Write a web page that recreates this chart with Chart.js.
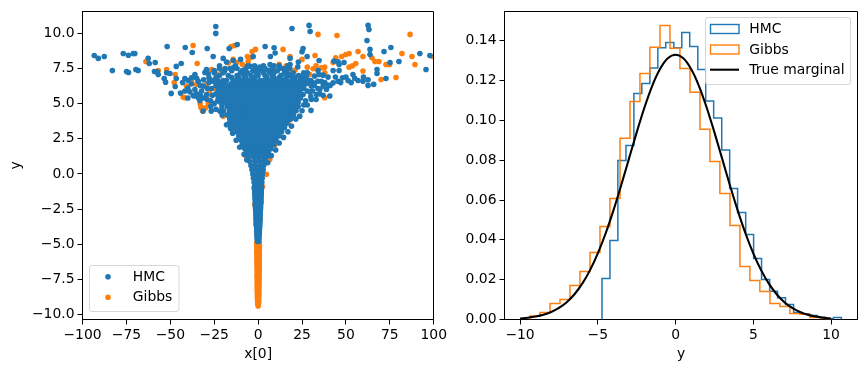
<!DOCTYPE html>
<html>
<head>
<meta charset="utf-8">
<script src="https://cdn.jsdelivr.net/npm/chart.js@4"></script>
<style>
html,body{margin:0;padding:0;background:#fff;width:866px;height:371px;overflow:hidden}
canvas{position:absolute;top:0}
#a{left:0}#b{left:450px}
</style>
</head>
<body>
<canvas id="a" width="450" height="371"></canvas>
<canvas id="b" width="416" height="371"></canvas>
<script>
// ---- left panel: joint samples (x[0], y) ----
const xTicksLeft = [-100,-75,-50,-25,0,25,50,75,100];
const yTicksLeft = [-10,-7.5,-5,-2.5,0,2.5,5,7.5,10];
const hmcSparse = [[-93.3,8.43],[-91,8.22],[-87.6,8.36],[-83,7.36],[-76.8,8.57],[-73.9,8.45],[-71.1,8.57],[-70.2,8.57],[-74.9,7.29],[-73.8,7.22],[-69.6,7.43],[-68.3,7.36],[-62.6,8.22],[-62,7.86],[-58.6,7.93],[-59,7.29],[-57.4,7.27],[-56.9,7.08],[-52.1,7.2],[-50.2,7.15],[-53.5,6.79],[-52.7,6.53],[-51.8,9.07],[-41.5,9],[-37.5,8.64],[-29,8.93],[-25.6,8.36],[-24.1,10.49],[-24.1,10],[-19.9,8.22],[-18,7.96],[-16.5,8.93],[-11.9,9.21],[-14.2,8.07],[-10,8.15],[-2.8,8.36],[4,9.07],[9.1,8.98],[9.7,8.6],[7,8.36],[6.8,7.79],[19.3,10.35],[29,10.57],[29.6,10.14],[25.6,8.93],[25,8.69],[27.9,8.36],[34.7,8.07],[18.2,8.22],[18.2,7.79],[22.9,7.96],[22.6,7.62],[62.6,10.57],[63.1,10.28],[62,9.5],[63.7,8.86],[63.7,8.5],[71.7,8.71],[75.6,9],[92.1,8.57],[97.8,8.43],[95.6,7.43],[80.2,8],[75.1,7.93],[67.7,7.43],[67.7,7.15],[72.8,6.79],[65.8,6.37],[62.6,6.3],[62.6,6.7],[59.7,6.6],[56.9,6.65],[54,7.08],[51.2,6.65],[48,6.84],[45.5,6.6],[42.7,6.48],[42.7,7.36],[46.1,7.36],[43.2,8.03],[45.5,7.98],[48.9,7.93],[46.1,7.79],[39.8,6.89],[37,7.03],[34.1,7.36],[34.7,7.08],[30.1,4.52],[-49.5,5.73],[-47.2,6.22],[-46.6,6.79],[-46.6,7.65],[-43.8,7.86],[-41.7,6.79],[-39.8,6.65],[-36,7.08],[-37.9,6.84],[-44.2,5.75],[-38.9,5.84],[-36.6,5.54],[-33.2,5.23],[-31.3,4.47],[-26.7,4.47],[-21.8,4.47],[-15.7,3.24],[-29.4,7.43],[-28.4,7.12],[-30.3,7.22],[-18.8,7.5],[-14.2,7.55],[-8.5,7.36],[-4.7,7.67],[0.9,7.6],[2.8,7.43],[6.6,7.2],[14.2,7.5],[17.1,7.08],[20.3,6.84],[23.7,6.96],[27.5,6.89],[31.3,6.49],[35.1,6.01],[38.9,6.01],[40.8,5.54],[25.6,5.65],[29.4,5.84],[33.2,5.65],[30.3,5.3],[23.7,4.11],[-34.1,6.6],[-31.3,6.25],[-32.2,5.9],[-29.4,5.65],[-36,6],[-41.7,5.9],[-34.1,5.42],[-26.5,6.08],[-25.6,6.6],[-27.5,6.72],[30.3,6.25],[34.1,6.08],[37,6.25],[32.2,6.96],[25.6,6.6],
[-43,6.5],[-40,6.1],[-38,6.4],[-35,6.8],[-33,6.3],[-31,6.7],[-29,6.1],[-28,6.5],[-37,5.6],[-35,5.7],[-33,5.6],[-31,5.4],[-29,5.3],[-27,5.2],[-40,5.4],[-26,5.6],[-25,5],[-27,4.8],[-24,4.6],[-23,5.2],[27,6.4],[29,6.6],[32,6.3],[34,6.6],[36,6.6],[38,6.5],[40,6.3],[28,5.9],[31,5.9],[35,5.7],[37,5.6],[27,5.2],[26,4.9],[25,4.5],[28,4.9],[33,5.3],[26,6.1],[30,5.5],[41,6.3],[44,6.9],[47,6.5],[50,6.9],[53,6.5],[55,6.8],[60,6.9],[-20.5,4.2],[-18,3.5],[-16.5,3.6],[-14.5,2.9],[-12.5,2.4],[-10.5,1.9],[21.5,3.9],[19,3.4],[17,3],[14.5,2.6],[12,2.2],[10,1.7],[7.5,1.3],[-8,1.4],[-6.5,1],[5.5,0.8]];
// dense body of the funnel, read row by row: [y, [x, x, ...]]
const hmcRows = [
[7.7,[-13,-6,-2,3,9,-22,12,17]],
[7.5,[-22,-16,-12,-7,-1,4,8,12,18]],
[7.35,[-25,-19,-15,-9,-3,1,6,11,16]],
[7.2,[-25,-20,-10,-6,-1,3,9,15,20,26,28]],
[7,[-22,-17,-12,-8,-4,0,4,8,13,18,23]],
[6.85,[-28,-24,-15,-11,-7,-2,5,9,12,16,21,25]],
[6.65,[-26,-23,-20,-18,-14,-12,-9,-7,-5,-3,-2,1,3,5,7,10,12,14,16,19,21,24,27,30]],
[6.45,[-22,-19,-15,-12,-10,-8,-6,-4,-1,1,3,6,8,11,13,15,18,21,23,28]],
[6.3,[-24,-21.4,-18.8,-16.2,-13.6,-11,-8.4,-5.8,-3.2,-0.6,2,4.6,7.2,9.8,12.4,15,17.6,20.2,22.8,25.4]],
[6,[-22.7,-20.1,-17.5,-14.9,-12.3,-9.7,-7.1,-4.5,-1.9,0.7,3.3,5.9,8.5,11.1,13.7,16.3,18.9,21.5,24.1]],
[5.7,[-24,-21.4,-18.8,-16.2,-13.6,-11,-8.4,-5.8,-3.2,-0.6,2,4.6,7.2,9.8,12.4,15,17.6,20.2,22.8,24.4]],
[5.4,[-22.7,-20.1,-17.5,-14.9,-12.3,-9.7,-7.1,-4.5,-1.9,0.7,3.3,5.9,8.5,11.1,13.7,16.3,18.9,21.5,24.1]],
[5.1,[-21.4,-18.8,-16.2,-13.6,-11,-8.4,-5.8,-3.2,-0.6,2,4.6,7.2,9.8,12.4,15,17.6,20.2,22.8]],
[4.8,[-20.6,-17.5,-14.9,-12.3,-9.7,-7.1,-4.5,-1.9,0.7,3.3,5.9,8.5,11.1,13.7,16.3,18.9,21.5,22.8]],
[4.5,[-19.6,-16.2,-13.6,-11,-8.4,-5.8,-3.2,-0.6,2,4.6,7.2,9.8,12.4,15,17.6,20.2,21.6]],
[4.2,[-17.5,-14.9,-12.3,-9.7,-7.1,-4.5,-1.9,0.7,3.3,5.9,8.5,11.1,13.7,16.3,18.9,20.2]],
[3.9,[-16.2,-13.6,-11,-8.4,-5.8,-3.2,-0.6,2,4.6,7.2,9.8,12.4,15,17.6,18.6]],
[3.6,[-14.9,-12.3,-9.7,-7.1,-4.5,-1.9,0.7,3.3,5.9,8.5,11.1,13.7,16.3]],
[3.3,[-13.6,-11,-8.4,-5.8,-3.2,-0.6,2,4.6,7.2,9.8,12.4,15]],
[3,[-12.3,-9.7,-7.1,-4.5,-1.9,0.7,3.3,5.9,8.5,11.1,13.4]],
[2.7,[-11,-8.4,-5.8,-3.2,-0.6,2,4.6,7.2,9.8,12]],
[2.4,[-9.7,-7.1,-4.5,-1.9,0.7,3.3,5.9,8.5,10.2]],
[2.1,[-9,-6.4,-3.8,-1.2,1.4,4,6.6,8.9]],
[1.8,[-7.6,-5.1,-2.5,0.1,2.7,5.3,7.2]],
[1.5,[-6.5,-3.9,-1.3,1.3,3.9,5.8]],
[1.2,[-5.6,-2.6,0,2.6,4.8]],
[0.9,[-4.8,-1.9,0.7,3.3,4]],
[0.6,[-4.1,-1.6,1,3.2]],
[0.3,[-3.5,-0.8,1.7,2.9]],
[0,[-3,-0.6,1.3,2.5]],
[-0.3,[-2.7,-0.5,1.5,2.3]],
[-0.6,[-2.3,0,2.1]],
[-0.9,[-2,0,1.9]],
[-1.05,[-2,1.9]],
[-1.2,[-1.9,0,1.8]],
[-1.35,[-1.9,1.8]],
[-1.5,[-1.8,0,1.7]],
[-1.65,[-1.8,1.7]],
[-1.8,[-1.7,0,1.6]],
[-1.95,[-1.6,1.5]],
[-2.1,[-1.6,0,1.5]],
[-2.25,[-1.5,1.4]],
[-2.4,[-1.5,0,1.4]],
[-2.55,[-1.4,1.3]],
[-2.7,[-1.3,0.1,1.2]],
[-2.85,[-1.3,1.2]],
[-3,[-1.2,0.1,1.1]],
[-3.15,[-1.2,1.1]],
[-3.3,[-1.1,0.1,1]],
[-3.45,[-1.1,1]],
[-3.6,[-1,0.1,0.9]],
[-3.75,[-0.9,0.9]],
[-3.9,[-0.8,0.8]],
[-4.05,[-0.8,0.7]],
[-4.2,[-0.7,0.7]],
[-4.35,[-0.7,0.6]],
[-4.5,[-0.6,0.5]],
[-4.65,[-0.5,0.4]],
[-4.8,[-0.3,0.3]]
];
const gibbsSparse = [[-63.9,8],[-56.9,7.36],[-52.1,7.43],[-47.2,7.08],[-47.8,6.51],[-42.7,5.47],[-41.7,5.42],[-37,9.14],[-34.7,7.86],[-32.6,4.75],[-31.7,4.47],[-28.4,4.99],[-27.9,5.94],[-26.5,7.43],[-23.7,7.12],[-19.9,7.27],[-15.4,9.07],[-13.5,9.14],[-14.2,8.15],[-12.3,7.93],[-6.1,8.36],[-5.7,8],[-3.4,8.71],[-1.5,8.86],[14.2,8.86],[18.2,8.36],[25,8.15],[32.4,8.43],[34.1,9.93],[44.9,9.85],[86.5,9.93],[81.9,8.57],[87.6,8.36],[89.3,7.79],[99.5,8.36],[78.5,6.86],[70,6.72],[74.9,7.79],[72.8,7.79],[68.8,8],[66.5,8],[64.8,8.26],[59.7,8.36],[56.9,8.71],[51.8,8.57],[49.9,8.5],[47.6,8.36],[44.2,8.26],[42.7,7.93],[37.9,7.6],[36,7.55],[31.3,7.48],[29.4,7.08],[18,7.2],[51.8,7.6],[53.7,7.69],[55.6,7.86],[59.7,7.32],[37.9,5.42],[17.1,3.64],[9.5,2.05],[6.6,1.03],[4.7,-0.03],[-7.6,1.34],[-14.2,3.05],[-19.9,4.11],[-24.6,6.08],[-29.4,6.37],[-35.1,6.37],[-40.8,6.25],[-27.5,5.65],[8.5,7.43],[12.3,6.72],[-2.4,-1],[2.5,-0.9],[-1.9,-2.2],[1.8,-2],[-1.2,-3.6],[1.2,-3.2],[-33,5],[-30,4.7],[-38,6.6],[-21,7.4],[-17,7.9],[-9,7.8],[-4,8.3],[12,7.8],[16,7.7],[21,7.4],[28,7.6],[33,7.7],[38,7.2]];
const gibbsTail = [
[-4.9,[-0.8,0.7]],[-5.05,[-0.8,0.7]],[-5.2,[-0.7,0.7]],[-5.35,[-0.7,0.7]],[-5.5,[-0.7,0.6]],[-5.65,[-0.7,0.6]],[-5.8,[-0.6,0.7]],[-5.95,[-0.6,0.6]],[-6.1,[-0.7,0.6]],[-6.25,[-0.6,0.6]],[-6.4,[-0.6,0.6]],[-6.55,[-0.6,0.6]],[-6.7,[-0.6,0.6]],[-6.85,[-0.5,0.6]],[-7,[-0.5,0.6]],[-7.15,[-0.5,0.5]],[-7.3,[-0.6,0.5]],[-7.45,[-0.5,0.5]],[-7.6,[-0.5,0.5]],[-7.75,[-0.5,0.5]],[-7.9,[-0.5,0.5]],[-8.05,[-0.5,0.4]],[-8.2,[-0.5,0.4]],[-8.35,[-0.4,0.4]],[-8.5,[-0.4,0.4]],[-8.65,[-0.4,0.4]],[-8.8,[-0.4,0.3]],[-8.95,[-0.3,0.3]],[-9.1,[-0.3,0.3]],[-9.25,[-0.2,0.2]],[-9.4,[0]]
];
// ---- right panel: histograms and density curve ----
const xTicksRight = [-10,-5,0,5,10];
const yTicksRight = [0,0.02,0.04,0.06,0.08,0.1,0.12,0.14];
const hmcEdges = [-4.73,-4.22,-3.71,-3.19,-2.68,-2.17,-1.65,-1.14,-0.63,-0.11,0.40,0.91,1.43,1.94,2.45,2.97,3.48,3.99,4.51,5.02,5.53,6.05,6.56,7.07,7.59,8.10,8.61,9.13,9.64,10.15,10.66];
const hmcHeights = [.0206,.0397,.0799,.0874,.1135,.1186,.1263,.1365,.1392,.1365,.1442,.1372,.1256,.1097,.1012,.0851,.0658,.0538,.0427,.0306,.0201,.0142,.0109,.0075,.0035,.0029,.002,.0011,.0004,.001];
const gibbsEdges = [-9.36,-8.72,-8.07,-7.43,-6.79,-6.15,-5.50,-4.86,-4.22,-3.57,-2.93,-2.29,-1.65,-1.00,-0.36,0.28,0.93,1.57,2.21,2.85,3.50,4.14,4.78,5.42,6.07,6.71,7.35,7.99,8.64,9.28,9.93];
const gibbsHeights = [.0017,.0035,.008,.01,.0171,.0241,.0337,.0467,.0608,.0911,.1095,.1236,.1367,.1477,.1362,.1261,.1141,.0956,.0794,.0633,.0472,.0266,.0196,.0141,.008,.0065,.003,.0027,.001,.0005];
const curveX = [-10,-9.5,-9,-8.5,-8,-7.5,-7,-6.5,-6,-5.5,-5,-4.5,-4,-3.5,-3,-2.5,-2,-1.5,-1,-0.5,0,0.5,1,1.5,2,2.5,3,3.5,4,4.5,5,5.5,6,6.5,7,7.5,8,8.5,9,9.5,10];
const curveY = [.0005,.0009,.0015,.0024,.0038,.0058,.0087,.0127,.018,.0248,.0332,.0432,.0547,.0673,.0807,.094,.1065,.1174,.1258,.1312,.133,.1312,.1258,.1174,.1065,.094,.0807,.0673,.0547,.0432,.0332,.0248,.018,.0127,.0087,.0058,.0038,.0024,.0015,.0009,.0005];

const BLUE='#1f77b4', ORANGE='#ff7f0e', FONT='"DejaVu Sans"', FS=13.9, R=2.8;
Chart.defaults.font.family = FONT;
Chart.defaults.font.size = FS;
Chart.defaults.color = '#000';

const rowsToPoints = rows => rows.flatMap(([y,xs]) => xs.map(x => ({x,y})));
const pairsToPoints = ps => ps.map(([x,y]) => ({x,y}));
const stepPoints = (edges,h) => [{x:edges[0],y:0}, ...h.map((v,i)=>({x:edges[i],y:v})), {x:edges[edges.length-1],y:0}];
const minusFmt = d => v => Number(v).toFixed(d).replace('-','\u2212');

const framePlugin = (legend) => ({
  id:'frameAndLegend',
  afterDraw(chart){
    const c = chart.ctx, a = chart.chartArea;
    c.save();
    c.strokeStyle='#000'; c.lineWidth=1;
    c.beginPath();
    c.moveTo(Math.floor(a.left),Math.floor(a.top)+.5);
    c.lineTo(Math.floor(a.right)+.5,Math.floor(a.top)+.5);
    c.lineTo(Math.floor(a.right)+.5,Math.floor(a.bottom)+.5);
    c.stroke();
    // legend frame
    const L = legend;
    c.beginPath();
    c.roundRect(L.x+.5,L.y+.5,L.w,L.h,2.5);
    c.fillStyle='rgba(255,255,255,0.8)'; c.fill();
    c.strokeStyle='rgba(204,204,204,0.8)'; c.lineWidth=1; c.stroke();
    c.font=`${FS}px ${FONT}`; c.textBaseline='middle'; c.textAlign='left';
    L.items.forEach(it=>{
      if(it.kind==='dot'){ c.fillStyle=it.color; c.beginPath(); c.arc(it.sx,it.y,R,0,Math.PI*2); c.fill(); }
      if(it.kind==='box'){ c.strokeStyle=it.color; c.lineWidth=1.4; c.strokeRect(it.sx,it.y-4.5,28.5,9); }
      if(it.kind==='line'){ c.strokeStyle=it.color; c.lineWidth=2.1; c.beginPath(); c.moveTo(it.sx,it.y); c.lineTo(it.sx+29,it.y); c.stroke(); }
      c.fillStyle='#000'; c.fillText(it.text,it.tx,it.y+.5);
    });
    c.restore();
  }
});

const axisCommon = {
  border:{display:true,color:'#000',width:1},
  grid:{drawOnChartArea:false,drawTicks:true,tickLength:5,tickColor:'#000',tickWidth:1}
};
const fixTicks = arr => s => { s.ticks = arr.map(v=>({value:v})); };

new Chart(document.getElementById('a'),{
  type:'scatter',
  data:{datasets:[
    {label:'HMC',data:[...pairsToPoints(hmcSparse),...rowsToPoints(hmcRows)],backgroundColor:BLUE,pointRadius:R,pointBorderWidth:0},
    {label:'Gibbs',data:[...pairsToPoints(gibbsSparse),...rowsToPoints(gibbsTail)],backgroundColor:ORANGE,pointRadius:R,pointBorderWidth:0}
  ]},
  options:{
    responsive:false,animation:false,events:[],
    layout:{padding:{top:10.5,right:14.5,left:0,bottom:0}},
    plugins:{legend:{display:false},tooltip:{enabled:false}},
    scales:{
      x:{type:'linear',min:-100,max:100,...axisCommon,
        afterBuildTicks:fixTicks(xTicksLeft),
        afterFit:s=>{s.height=51.5;},
        ticks:{autoSkip:false,maxRotation:0,padding:3,callback:minusFmt(0)},
        title:{display:true,text:'x[0]',font:{size:FS},color:'#000',padding:{top:0,bottom:8}}},
      y:{type:'linear',min:-10.36,max:11.57,...axisCommon,
        afterBuildTicks:fixTicks(yTicksLeft),
        afterFit:s=>{s.width=82.5;},
        ticks:{autoSkip:false,padding:3,callback:minusFmt(1)},
        title:{display:true,text:'y',font:{size:FS},color:'#000',padding:{top:8,bottom:0}}}
    }
  },
  plugins:[framePlugin({x:89,y:265,w:89.5,h:46,items:[
    {kind:'dot',color:BLUE,sx:108,y:276.7,tx:132.8,text:'HMC'},
    {kind:'dot',color:ORANGE,sx:108,y:297.3,tx:132.8,text:'Gibbs'}
  ]})]
});

new Chart(document.getElementById('b'),{
  type:'line',
  data:{datasets:[
    {label:'True marginal',data:curveX.map((x,i)=>({x,y:curveY[i]})),borderColor:'#000',borderWidth:2.1,pointRadius:0,cubicInterpolationMode:'monotone'},
    {label:'Gibbs',data:stepPoints(gibbsEdges,gibbsHeights),borderColor:ORANGE,borderWidth:1.5,pointRadius:0,stepped:'before'},
    {label:'HMC',data:stepPoints(hmcEdges,hmcHeights),borderColor:BLUE,borderWidth:1.5,pointRadius:0,stepped:'before'}
  ]},
  options:{
    responsive:false,animation:false,events:[],
    layout:{padding:{top:10.5,right:8.5,left:0,bottom:0}},
    plugins:{legend:{display:false},tooltip:{enabled:false}},
    scales:{
      x:{type:'linear',min:-11.0,max:11.7,...axisCommon,
        afterBuildTicks:fixTicks(xTicksRight),
        afterFit:s=>{s.height=51.5;},
        ticks:{autoSkip:false,maxRotation:0,padding:3,callback:minusFmt(0)},
        title:{display:true,text:'y',font:{size:FS},color:'#000',padding:{top:0,bottom:8}}},
      y:{type:'linear',min:0,max:0.1548,...axisCommon,
        afterBuildTicks:fixTicks(yTicksRight),
        afterFit:s=>{s.width=54.5;},
        ticks:{autoSkip:false,padding:3,callback:minusFmt(2)}}
    }
  },
  plugins:[framePlugin({x:255,y:17,w:145,h:67,items:[
    {kind:'box',color:BLUE,sx:260.5,y:29,tx:299.3,text:'HMC'},
    {kind:'box',color:ORANGE,sx:260.5,y:49.5,tx:299.3,text:'Gibbs'},
    {kind:'line',color:'#000',sx:260,y:69.7,tx:299.3,text:'True marginal'}
  ]})]
});
</script>
</body>
</html>
